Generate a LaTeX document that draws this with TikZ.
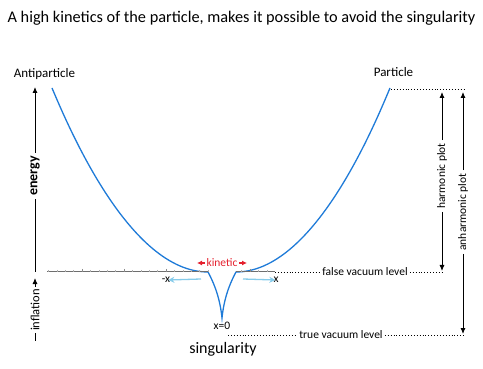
\documentclass[tikz,border=0pt]{standalone}
\usepackage{fontspec}
\setmainfont{Carlito}
\usetikzlibrary{arrows.meta, calc, positioning}
\definecolor{CurveBlue} {HTML}{1F7BD8}
\definecolor{SkyArrow}  {HTML}{86CBEA}
\definecolor{KinRed}    {HTML}{E4202E}
\definecolor{AxisGrey}  {HTML}{6E6E6E}

\begin{document}
\begin{tikzpicture}[x=1pt, y=-1pt,
    lbl/.style={inner sep=2pt, font=\fontsize{11.5}{12}\selectfont},
    axarrow/.style={line width=0.9pt, -{Latex[length=6pt,width=5pt]}},
    levelline/.style={line width=0.9pt, dotted},
    skyarrow/.style={SkyArrow, line width=1.3pt, -{Stealth[length=6pt,width=6pt]}},
    kinarrow/.style={KinRed, line width=1.1pt, -{Latex[length=5pt,width=5pt]}},
    tick/.style={AxisGrey!55, line width=0.6pt}]
  \useasboundingbox (0,0) rectangle (483,369);
  % Title and particle labels
  \node[font=\fontsize{16.3}{18}\selectfont] (title) at (241.5,18)
    {A high kinetics of the particle, makes it possible to avoid the singularity};
  \node[font=\fontsize{13}{14}\selectfont, inner sep=0pt] (anti) at (44.5,74) {Antiparticle};
  \node[font=\fontsize{13}{14}\selectfont, inner sep=0pt] (part) at (393.5,72) {Particle};
  % Potential curve with the dip
  \draw[CurveBlue, line width=1.3pt]
    (52,88) parabola[bend at end] (208,272)
    .. controls (214,283) and (220,298) .. (222,318)
    .. controls (224,298) and (230,283) .. (236,272)
    parabola (390,88);
  % Grey axis with ticks
  \draw[AxisGrey, line width=1pt] (47,272) -- (208,272);
  \draw[AxisGrey, line width=1pt] (236,272) -- (275,272);
  \foreach \i in {0,...,27} {
    \pgfmathsetmacro{\tx}{48.4+8.4*\i}
    \ifnum\i<20 \draw[tick] (\tx,270) -- (\tx,272); \fi
    \ifnum\i>22 \ifnum\i<27 \draw[tick] (\tx,270) -- (\tx,272); \fi\fi
  }
  \foreach \tx in {82,124,166,250} \draw[AxisGrey!80, line width=0.7pt] (\tx,269) -- (\tx,272);
  % Left energy axis
  \node[font=\bfseries\fontsize{14}{15}\selectfont, rotate=90, inner sep=3pt] (energy) at (35,176) {energy};
  \coordinate (enTop) at (35,87);
  \coordinate (enBot) at (35,272);
  \draw[axarrow] (energy) -- (enTop);
  \draw[line width=0.9pt] (energy) -- (enBot);
  \node[font=\fontsize{12.5}{13}\selectfont, rotate=90, inner sep=2pt] (inflation) at (35,310) {inflation};
  \coordinate (infTop) at (35,278);
  \coordinate (infBot) at (35,341);
  \draw[axarrow] (inflation) -- (infTop);
  \draw[line width=0.9pt] (inflation) -- (infBot);
  % Motion and kinetic labels
  \node[lbl, inner sep=0pt] (mx) at (166,280) {-x};
  \node[lbl, inner sep=0pt] (px) at (276,280) {x};
  \coordinate (mxStart) at (201,279);
  \coordinate (pxStart) at (243,279);
  \draw[skyarrow] (mxStart) -- ([xshift=-2pt]mx.east);
  \draw[skyarrow] (pxStart) -- ([xshift=2pt]px.west);
  \node[lbl, text=KinRed, inner sep=1.5pt] (kin) at (222,263) {kinetic};
  \coordinate (kinL) at (197,263);
  \coordinate (kinR) at (247,263);
  \draw[kinarrow] (kin) -- (kinL);
  \draw[kinarrow] (kin) -- (kinR);
  \node[lbl, inner sep=0pt] (xzero) at (222,326) {x=0};
  \node[font=\fontsize{16}{17}\selectfont, inner sep=0pt] (sing) at (223,349) {singularity};
  % Vacuum levels
  \node[lbl] (false) at (365,272) {false vacuum level};
  \coordinate (fvL) at (275,272);
  \coordinate (fvR) at (443,272);
  \draw[levelline] (fvL) -- (false);
  \draw[levelline] (false) -- (fvR);
  \node[lbl] (true) at (341,335) {true vacuum level};
  \coordinate (tvL) at (228,335);
  \coordinate (tvR) at (464,335);
  \draw[levelline] (tvL) -- (true);
  \draw[levelline] (true) -- (tvR);
  \coordinate (topL) at (391,89.5);
  \coordinate (topR) at (464,89.5);
  \draw[levelline] (topL) -- (topR);
  % Right plot ranges
  \node[lbl, rotate=90, inner sep=3pt] (harm) at (442,176) {harmonic plot};
  \coordinate (harmTop) at (442,92);
  \coordinate (harmBot) at (442,271);
  \draw[axarrow] (harm) -- (harmTop);
  \draw[axarrow] (harm) -- (harmBot);
  \node[lbl, rotate=90, inner sep=3pt] (anharm) at (463,212) {anharmonic plot};
  \coordinate (anhTop) at (463,92);
  \coordinate (anhBot) at (463,334);
  \draw[axarrow] (anharm) -- (anhTop);
  \draw[axarrow] (anharm) -- (anhBot);
\end{tikzpicture}
\end{document}
